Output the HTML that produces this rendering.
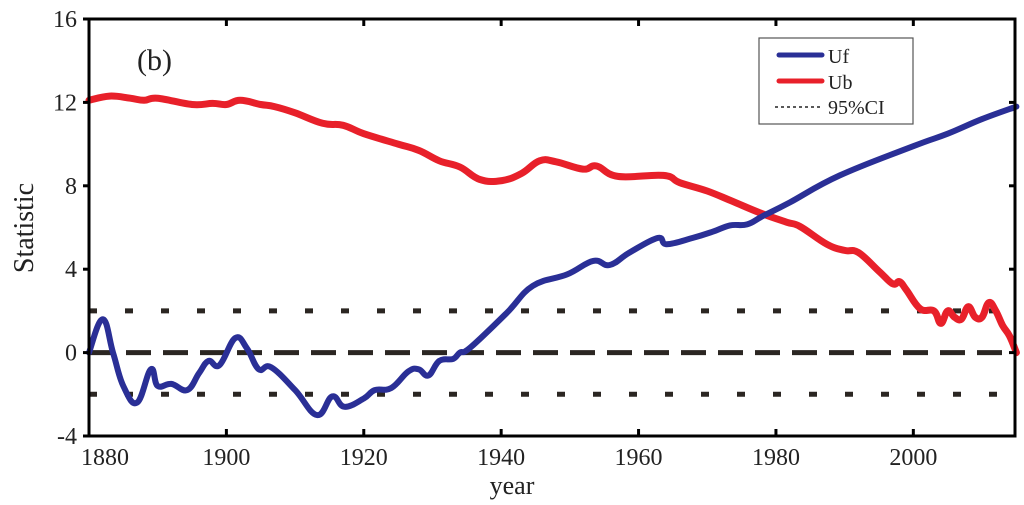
<!DOCTYPE html>
<html><head><meta charset="utf-8">
<style>
html,body{margin:0;padding:0;background:#fff;}
svg{display:block;font-family:"Liberation Serif",serif;}
</style></head>
<body>
<svg id="chart" width="1024" height="505" viewBox="0 0 1024 505" xmlns="http://www.w3.org/2000/svg"></svg>
<script>
const ufYears = [1880,1882,1883.5,1885,1887,1889,1890,1892,1894.3,1896,1897.4,1899,1901.3,1903,1904.7,1906.5,1910,1913.2,1915.4,1917.2,1920,1921.6,1924,1926.5,1928,1929.4,1931,1933,1934,1935.5,1940.8,1944.6,1949.6,1953.4,1955.8,1958.7,1962.8,1964.1,1967.9,1970.8,1973.3,1975.8,1978.1,1982,1989.3,2000,2005,2010,2015];
const ufValues = [0,1.6,0,-1.6,-2.4,-0.8,-1.6,-1.5,-1.8,-1.0,-0.4,-0.6,0.7,0.2,-0.8,-0.7,-1.8,-3.0,-2.1,-2.6,-2.2,-1.8,-1.7,-0.9,-0.8,-1.1,-0.4,-0.3,0,0.24,1.9,3.2,3.75,4.4,4.2,4.8,5.5,5.2,5.5,5.8,6.1,6.15,6.55,7.2,8.5,9.9,10.5,11.2,11.8];
const ubYears = [1880,1883,1886,1888,1890,1895,1898,1900,1902,1905,1907,1910,1914,1917,1920,1925,1928,1931,1934,1936.9,1940.1,1943,1945.6,1948,1951.9,1953.9,1957,1963.6,1966,1970,1973.7,1977.7,1981.6,1983.5,1987.4,1990,1992,1995,1997,1998,1999,2001,2003,2004,2005,2006,2007,2008,2009,2010,2011,2012,2013,2014,2015];
const ubValues = [12.1,12.3,12.2,12.1,12.2,11.9,11.95,11.9,12.1,11.9,11.8,11.5,11.0,10.9,10.5,10.0,9.7,9.2,8.9,8.3,8.25,8.6,9.2,9.15,8.8,8.95,8.45,8.5,8.15,7.75,7.25,6.7,6.25,6.05,5.2,4.9,4.8,3.9,3.3,3.4,3.0,2.1,2.0,1.4,2.0,1.7,1.6,2.2,1.7,1.7,2.4,2.0,1.3,0.8,0];
const xTicks = [1880,1900,1920,1940,1960,1980,2000];
const yTicks = [-4,0,4,8,12,16];
const ciLevels = [2,-2];

const svg = document.getElementById('chart');
const NS = 'http://www.w3.org/2000/svg';
const L=89, R=1015, T=19, B=436;
const X0=1880, X1=2014.8, Y0=-4, Y1=16;
const xs = v => L + (v - X0) / (X1 - X0) * (R - L);
const ys = v => B - (v - Y0) / (Y1 - Y0) * (B - T);
function mk(tag, attrs, parent){const e=document.createElementNS(NS,tag);for(const k in attrs)e.setAttribute(k,attrs[k]);(parent||svg).appendChild(e);return e;}

ciLevels.forEach(c=>{
  const l=mk('line',{x1:L,x2:R,y1:ys(c),y2:ys(c),stroke:'#2b2622','stroke-width':5,'stroke-dasharray':'8 28'});
  
  
});
const z=mk('line',{x1:L,x2:R,y1:ys(0),y2:ys(0),stroke:'#2b2622','stroke-width':5,'stroke-dasharray':'25 12'});



function path(xa,ya){
  const p=xa.map((x,i)=>[xs(x),ys(ya[i])]);
  const f=n=>n.toFixed(1);
  let d='M'+f(p[0][0])+','+f(p[0][1]);
  for(let i=0;i<p.length-1;i++){
    const p0=p[Math.max(0,i-1)],p1=p[i],p2=p[i+1],p3=p[Math.min(p.length-1,i+2)];
    const t=0.4;
    const c1=[p1[0]+(p2[0]-p0[0])*t/2, p1[1]+(p2[1]-p0[1])*t/2];
    const c2=[p2[0]-(p3[0]-p1[0])*t/2, p2[1]-(p3[1]-p1[1])*t/2];
    d+='C'+f(c1[0])+','+f(c1[1])+' '+f(c2[0])+','+f(c2[1])+' '+f(p2[0])+','+f(p2[1]);
  }
  return d;
}
const ub=mk('path',{d:path(ubYears,ubValues),fill:'none',stroke:'#e8202a','stroke-width':7,'stroke-linejoin':'round','stroke-linecap':'round'});


const uf=mk('path',{d:path(ufYears,ufValues),fill:'none',stroke:'#2a2f96','stroke-width':6,'stroke-linejoin':'round','stroke-linecap':'round'});



const box=mk('rect',{x:L,y:T,width:R-L,height:B-T,fill:'none',stroke:'#000','stroke-width':3});



xTicks.forEach(t=>{
  const x=xs(t);
  mk('line',{x1:x,x2:x,y1:B,y2:B-7,stroke:'#000','stroke-width':3});
  mk('line',{x1:x,x2:x,y1:T,y2:T+7,stroke:'#000','stroke-width':3});
  const tx=mk('text',{x:t===1880?x+16:x,y:465,'text-anchor':'middle','font-size':24,fill:'#222'});
  tx.textContent=t;
  
  
});
yTicks.forEach(t=>{
  const y=ys(t);
  mk('line',{x1:L-6,x2:L,y1:y,y2:y,stroke:'#000','stroke-width':3});
  mk('line',{x1:R,x2:R-6,y1:y,y2:y,stroke:'#000','stroke-width':3});
  const tx=mk('text',{x:77,y:y+8,'text-anchor':'end','font-size':24,fill:'#222'});
  tx.textContent=t;
  
  
});
</script>
<svg style="position:absolute;left:0;top:0" width="1024" height="505">
  <text x="512" y="494" text-anchor="middle" font-size="26" fill="#222">year</text>
  <text transform="translate(33,228) rotate(-90)" text-anchor="middle" font-size="28" fill="#222">Statistic</text>
  <text x="137" y="70" font-size="30" fill="#222">(b)</text>
  <g>
    <rect x="759" y="38" width="154" height="86" fill="#fff" stroke="#555" stroke-width="1.2"/>
    <line x1="779" x2="822" y1="55" y2="55" stroke="#2a2f96" stroke-width="5" stroke-linecap="round"/>
    <text x="828" y="63" font-size="20" fill="#222">Uf</text>
    <line x1="779" x2="822" y1="81" y2="81" stroke="#e8202a" stroke-width="5" stroke-linecap="round"/>
    <text x="828" y="89" font-size="20" fill="#222">Ub</text>
    <line x1="775" x2="822" y1="107" y2="107" stroke="#222" stroke-width="1.5" stroke-dasharray="3 3"/>
    <text x="828" y="114" font-size="20" fill="#222">95%CI</text>
  </g>
</svg>
</body></html>
